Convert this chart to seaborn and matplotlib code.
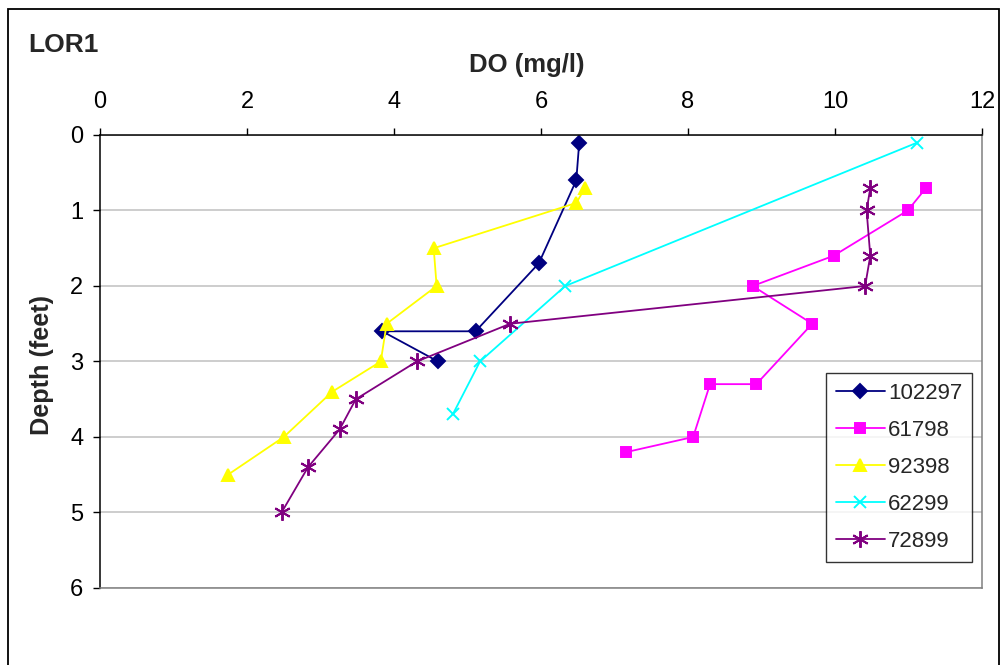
import matplotlib
matplotlib.use("Agg")
import matplotlib.pyplot as plt
import matplotlib.patches as patches
import seaborn as sns

# DO profiles at station LOR1
series_names = ["102297", "61798", "92398", "62299", "72899"]

do_102297 = [6.52, 6.48, 5.97, 5.11, 3.84, 4.60]
depth_102297 = [0.1, 0.6, 1.7, 2.6, 2.6, 3.0]

do_61798 = [11.24, 10.99, 9.98, 8.88, 9.69, 8.93, 8.30, 8.07, 7.16]
depth_61798 = [0.7, 1.0, 1.6, 2.0, 2.5, 3.3, 3.3, 4.0, 4.2]

do_92398 = [6.60, 6.48, 4.54, 4.58, 3.90, 3.82, 3.16, 2.50, 1.74]
depth_92398 = [0.7, 0.9, 1.5, 2.0, 2.5, 3.0, 3.4, 4.0, 4.5]

do_62299 = [11.12, 6.33, 5.17, 4.80]
depth_62299 = [0.1, 2.0, 3.0, 3.7]

do_72899 = [10.48, 10.43, 10.48, 10.41, 5.58, 4.31, 3.48, 3.26, 2.83, 2.47]
depth_72899 = [0.7, 1.0, 1.6, 2.0, 2.5, 3.0, 3.5, 3.9, 4.4, 5.0]

x_ticks = [0, 2, 4, 6, 8, 10, 12]
y_ticks = [0, 1, 2, 3, 4, 5, 6]

sns.set_theme(style="white")
plt.rcParams['font.family'] = ['Liberation Sans', 'DejaVu Sans']

fig = plt.figure(figsize=(10, 6.65), dpi=100)
ax = fig.add_axes([0.100, 0.1158, 0.882, 0.6812])

# style per series: color, marker, marker size
styles = {
    "102297": ("#000080", "D", 7),
    "61798": ("#ff00ff", "s", 7),
    "92398": ("#ffff00", "^", 9),
    "62299": ("#00ffff", "x", 9),
    "72899": ("#800080", (6, 2, 0), 12),
}
data = {
    "102297": (do_102297, depth_102297),
    "61798": (do_61798, depth_61798),
    "92398": (do_92398, depth_92398),
    "62299": (do_62299, depth_62299),
    "72899": (do_72899, depth_72899),
}

for name in series_names:
    color, marker, ms = styles[name]
    xs, ys = data[name]
    # estimator=None so repeated DO values are not averaged
    sns.lineplot(x=xs, y=ys, sort=False, estimator=None, ax=ax, color=color,
                 marker=marker, markersize=ms, mec=color, mfc=color, mew=1.4,
                 lw=1.3, label=name)

ax.set_xlim(0, 12)
ax.set_ylim(6, 0)
ax.set_xticks(x_ticks)
ax.set_yticks(y_ticks)
ax.xaxis.tick_top()
ax.tick_params(axis='x', top=True, bottom=False, direction='out', length=5,
               width=1, pad=11, labelsize=17, colors='black')
ax.tick_params(axis='y', left=True, direction='out', length=5, width=1,
               pad=7, labelsize=17, colors='black')
ax.set_xlabel("")
ax.set_ylabel("")

ax.yaxis.grid(True, color='#c0c0c0', lw=1.1)
ax.xaxis.grid(False)
ax.set_axisbelow(True)
for side in ['top', 'left']:
    ax.spines[side].set_color('black')
    ax.spines[side].set_linewidth(1.1)
for side in ['right', 'bottom']:
    ax.spines[side].set_color('#808080')
    ax.spines[side].set_linewidth(1.1)

leg = ax.legend(loc='upper left', bbox_to_anchor=(0.823, 0.4746),
                borderaxespad=0, fontsize=16, frameon=True, fancybox=False,
                labelspacing=0.72, handlelength=2.2, handletextpad=0.15,
                borderpad=0.45)
leg.get_frame().set_edgecolor('black')
leg.get_frame().set_linewidth(1.0)

fig.text(0.028, 1 - 45 / 665, "LOR1", fontsize=19, fontweight='bold',
         va='center', ha='left')
fig.text(0.527, 1 - 65 / 665, "DO (mg/l)", fontsize=18.5, fontweight='bold',
         va='center', ha='center')
fig.text(0.042, 1 - 365 / 665, "Depth (feet)", fontsize=18.2,
         fontweight='bold', va='center', ha='center', rotation=90)

# outer chart frame
frame = patches.Rectangle((0.008, -0.1), 0.991, 1.0865, transform=fig.transFigure,
                          fill=False, edgecolor='black', lw=1.3)
fig.patches.append(frame)

fig.savefig("out.png", dpi=100)
